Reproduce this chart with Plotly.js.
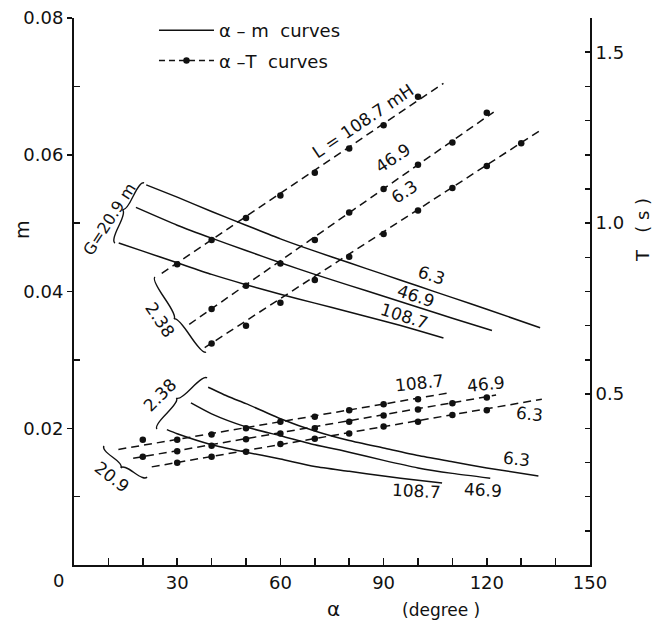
<!DOCTYPE html>
<html><head><meta charset="utf-8">
<script src="https://cdn.plot.ly/plotly-3.0.1.min.js"></script>
<style>html,body{margin:0;padding:0;background:#fff}#chart{width:656px;height:628px}</style>
</head><body><div id="chart"></div>
<script>
// ---------- tick labels ----------
const xTickVals = [0, 30, 60, 90, 120, 150];
const xTickText = ['', '30', '60', '90', '120', '150'];
const xMinorVals = [10, 20, 40, 50, 70, 80, 100, 110, 130, 140];
const mTickVals = [0.02, 0.04, 0.06, 0.08];
const mTickText = ['0.02', '0.04', '0.06', '0.08'];
const mMinorVals = [0.01, 0.03, 0.05, 0.07];
const TTickVals = [0.5, 1.0, 1.5];
const TTickText = ['0.5', '1.0', '1.5'];
const TMinorVals = [0.1, 0.2, 0.3, 0.4, 0.6, 0.7, 0.8, 0.9, 1.1, 1.2, 1.3, 1.4, 1.6];

// ---------- alpha - T curves, G = 2.38 m (upper set) : measured points ----------
const aT_238_1087 = [30, 40, 50, 60, 70, 80, 90, 100];
const T_238_1087  = [0.880, 0.951, 1.015, 1.081, 1.147, 1.218, 1.286, 1.370];
const aT_238_469  = [40, 50, 60, 70, 80, 90, 100, 110, 120];
const T_238_469   = [0.749, 0.817, 0.882, 0.951, 1.031, 1.100, 1.171, 1.236, 1.323];
const aT_238_63   = [40, 50, 60, 70, 80, 90, 100, 110, 120, 130];
const T_238_63    = [0.648, 0.700, 0.767, 0.834, 0.902, 0.968, 1.037, 1.103, 1.167, 1.234];
// fitted straight lines (end points)
const fitA_238_1087 = [25.5, 107.4], fitT_238_1087 = [0.853, 1.409];
const fitA_238_469  = [33.5, 122.0], fitT_238_469  = [0.704, 1.325];
const fitA_238_63   = [38.0, 135.5], fitT_238_63   = [0.636, 1.271];

// ---------- alpha - T curves, G = 20.9 m (lower set) ----------
const aT_209_1087 = [20, 30, 40, 50, 60, 70, 80, 90, 100];
const T_209_1087  = [0.366, 0.366, 0.382, 0.400, 0.419, 0.434, 0.453, 0.470, 0.485];
const aT_209_469  = [20, 30, 40, 50, 60, 70, 80, 90, 100, 110, 120];
const T_209_469   = [0.317, 0.333, 0.349, 0.368, 0.385, 0.400, 0.419, 0.437, 0.455, 0.473, 0.490];
const aT_209_63   = [30, 40, 50, 60, 70, 80, 90, 100, 110, 120];
const T_209_63    = [0.299, 0.317, 0.331, 0.354, 0.369, 0.385, 0.405, 0.419, 0.439, 0.453];
const fitA_209_1087 = [12.9, 109.3], fitT_209_1087 = [0.338, 0.504];
const fitA_209_469  = [17.2, 122.7], fitT_209_469  = [0.312, 0.497];
const fitA_209_63   = [22.6, 136.0], fitT_209_63   = [0.287, 0.485];

// ---------- alpha - m curves, G = 20.9 m (upper set) ----------
const am_209_63   = [21, 30, 40, 50, 60, 70, 80, 90, 100, 110, 120, 135.5];
const m_209_63    = [0.0556, 0.0538, 0.0517, 0.0497, 0.0477, 0.0459, 0.0442, 0.0425, 0.0408, 0.0391, 0.0374, 0.0347];
const am_209_469  = [18, 30, 40, 50, 60, 70, 80, 90, 100, 110, 121.5];
const m_209_469   = [0.0523, 0.0497, 0.0478, 0.0460, 0.0442, 0.0425, 0.0409, 0.0393, 0.0377, 0.0361, 0.0343];
const am_209_1087 = [13, 20, 30, 40, 50, 60, 70, 80, 90, 100, 107.4];
const m_209_1087  = [0.0471, 0.0459, 0.0442, 0.0425, 0.0410, 0.0396, 0.0383, 0.0370, 0.0357, 0.0343, 0.0332];

// ---------- alpha - m curves, G = 2.38 m (lower set) ----------
const am_238_63   = [39, 45, 50, 60, 70, 80, 90, 100, 110, 120, 135];
const m_238_63    = [0.0260, 0.0246, 0.0236, 0.0214, 0.0196, 0.0182, 0.0171, 0.0160, 0.0151, 0.0142, 0.0130];
const am_238_469  = [34, 40, 50, 60, 70, 80, 90, 100, 110, 121];
const m_238_469   = [0.0237, 0.0221, 0.0202, 0.0189, 0.0176, 0.0165, 0.0153, 0.0142, 0.0134, 0.0127];
const am_238_1087 = [27, 30, 40, 50, 60, 70, 80, 90, 100, 107];
const m_238_1087  = [0.0198, 0.0192, 0.0176, 0.0165, 0.0155, 0.0144, 0.0137, 0.0130, 0.0124, 0.0120];

// ---------- styling ----------
const FONT = 'DejaVu Sans, Arial, sans-serif';
const INK = '#111';
const PLOT = {l: 74, t: 18, w: 516, h: 547};
function paper(x, y) { return {x: (x - PLOT.l) / PLOT.w, y: 1 - (y - PLOT.t) / PLOT.h}; }

const traces = [];
function mCurve(a, m, legend) {
  traces.push({x: a, y: m, type: 'scatter', mode: 'lines', xaxis: 'x', yaxis: 'y',
    line: {color: INK, width: 1.5, shape: 'spline', smoothing: 0.6},
    name: 'α – m  curves', legendgroup: 'm', showlegend: !!legend, hoverinfo: 'skip'});
}
function tCurve(fa, fT, a, T) {
  traces.push({x: fa, y: fT, type: 'scatter', mode: 'lines', xaxis: 'x', yaxis: 'y2',
    line: {color: INK, width: 1.5, dash: '8px,5px'}, showlegend: false, hoverinfo: 'skip'});
  traces.push({x: a, y: T, type: 'scatter', mode: 'markers', xaxis: 'x', yaxis: 'y2',
    marker: {color: INK, size: 6.5}, showlegend: false, hoverinfo: 'skip'});
}
mCurve(am_209_63, m_209_63, true);
mCurve(am_209_469, m_209_469);
mCurve(am_209_1087, m_209_1087);
mCurve(am_238_63, m_238_63);
mCurve(am_238_469, m_238_469);
mCurve(am_238_1087, m_238_1087);
tCurve(fitA_238_1087, fitT_238_1087, aT_238_1087, T_238_1087);
tCurve(fitA_238_469, fitT_238_469, aT_238_469, T_238_469);
tCurve(fitA_238_63, fitT_238_63, aT_238_63, T_238_63);
tCurve(fitA_209_1087, fitT_209_1087, aT_209_1087, T_209_1087);
tCurve(fitA_209_469, fitT_209_469, aT_209_469, T_209_469);
tCurve(fitA_209_63, fitT_209_63, aT_209_63, T_209_63);
// legend entry for the alpha - T curves
traces.push({x: [null], y: [null], type: 'scatter', mode: 'lines+markers', xaxis: 'x', yaxis: 'y2',
  line: {color: INK, width: 1.5, dash: '6px,4px'}, marker: {color: INK, size: 6.5},
  name: 'α –T  curves', legendgroup: 'T', showlegend: true, hoverinfo: 'skip'});

// ---------- curly braces ----------
function brace(p1, p2, nRaw, d) {
  const L = Math.hypot(p2[0] - p1[0], p2[1] - p1[1]);
  const u = [(p2[0] - p1[0]) / L, (p2[1] - p1[1]) / L];
  const nl = Math.hypot(nRaw[0], nRaw[1]);
  const n = [nRaw[0] / nl, nRaw[1] / nl];
  const h = d / 2;
  const pm = [(p1[0] + p2[0]) / 2, (p1[1] + p2[1]) / 2];
  const P = (b, s, k) => [b[0] + u[0] * s + n[0] * k, b[1] + u[1] * s + n[1] * k];
  const pts = [p1, P(p1, 0, h), P(p1, L / 4, h), P(pm, 0, h), P(pm, 0, d),
               P(pm, 0, h), P(p2, -L / 4, h), P(p2, 0, h), p2];
  const c = pts.map(q => { const r = paper(q[0], q[1]); return r.x.toFixed(5) + ',' + r.y.toFixed(5); });
  const path = 'M' + c[0] + ' Q' + c[1] + ' ' + c[2] + ' Q' + c[3] + ' ' + c[4] +
               ' Q' + c[5] + ' ' + c[6] + ' Q' + c[7] + ' ' + c[8];
  return {type: 'path', xref: 'paper', yref: 'paper', path: path, line: {color: INK, width: 1.4}};
}
const shapes = [
  brace([144, 183], [115, 243], [-0.9, -0.435], 8),
  brace([155, 277], [206, 352], [-0.827, 0.562], 8),
  brace([207, 378], [157, 429], [-0.714, -0.7], 8),
  brace([104, 446], [147, 477], [-0.585, 0.811], 8)
];

// ---------- text labels (pixel positions) ----------
const labels = [
  ['L = 108.7 mH', 363, 121, -34, 17],
  ['46.9', 393, 158, -34, 17],
  ['6.3', 404, 192, -34, 17],
  ['6.3', 431, 275, 18, 17],
  ['46.9', 416, 296, 18, 17],
  ['108.7', 404, 316, 18, 17],
  ['108.7', 419, 383, -6, 17],
  ['46.9', 486, 384, -6, 17],
  ['6.3', 529, 414, 6, 17],
  ['6.3', 516, 459, 6, 17],
  ['46.9', 483, 490, 3, 17],
  ['108.7', 416, 491, 3, 17],
  ['G=20.9 m', 109, 219, -57, 16],
  ['2.38', 160, 320, 56, 17],
  ['2.38', 160, 395, -45, 17],
  ['20.9', 112, 477, 38, 17],
  ['0', 58, 580, 0, 18],
  ['m', 22, 230, -90, 19],
  ['T   ( s )', 643, 230, -90, 18],
  ['α', 333, 609, 0, 20],
  ['(degree )', 441, 610, 0, 17]
];
const annotations = labels.map(l => {
  const p = paper(l[1], l[2]);
  return {text: l[0], x: p.x, y: p.y, xref: 'paper', yref: 'paper', showarrow: false,
    textangle: l[3], xanchor: 'center', yanchor: 'middle', font: {family: FONT, size: l[4], color: INK}};
});

const axisCommon = {showline: true, linewidth: 2, linecolor: INK, showgrid: false, zeroline: false,
  tickcolor: INK, tickwidth: 1.5, tickfont: {family: FONT, size: 18, color: INK}, fixedrange: true};

const layout = {
  width: 656, height: 628,
  margin: {l: PLOT.l, r: 656 - PLOT.l - PLOT.w, t: PLOT.t, b: 628 - PLOT.t - PLOT.h, pad: 0},
  paper_bgcolor: '#fff', plot_bgcolor: '#fff',
  font: {family: FONT, color: INK},
  showlegend: true,
  legend: {x: 0.155, y: 1.011, xanchor: 'left', yanchor: 'top', bgcolor: 'rgba(0,0,0,0)',
    font: {family: FONT, size: 18, color: INK}, itemwidth: 55, traceorder: 'grouped', tracegroupgap: 4},
  xaxis: Object.assign({}, axisCommon, {range: [0, 150], tickmode: 'array', tickvals: xTickVals, ticktext: xTickText,
    ticks: 'inside', ticklen: 7,
    minor: {tickmode: 'array', tickvals: xMinorVals, ticks: 'inside', ticklen: 7, tickwidth: 1.5, tickcolor: INK}}),
  yaxis: Object.assign({}, axisCommon, {range: [0, 0.08], tickmode: 'array', tickvals: mTickVals, ticktext: mTickText,
    ticks: 'outside', ticklen: 5,
    minor: {tickmode: 'array', tickvals: mMinorVals, ticks: 'inside', ticklen: 6, tickwidth: 1.5, tickcolor: INK}}),
  yaxis2: Object.assign({}, axisCommon, {overlaying: 'y', side: 'right', range: [0, 1.6], tickmode: 'array',
    tickvals: TTickVals, ticktext: TTickText, ticks: 'inside', ticklen: 5,
    minor: {tickmode: 'array', tickvals: TMinorVals, ticks: 'inside', ticklen: 5, tickwidth: 1.5, tickcolor: INK}}),
  shapes: shapes,
  annotations: annotations
};

Plotly.newPlot('chart', traces, layout, {staticPlot: true, displayModeBar: false});
</script>
</body></html>
